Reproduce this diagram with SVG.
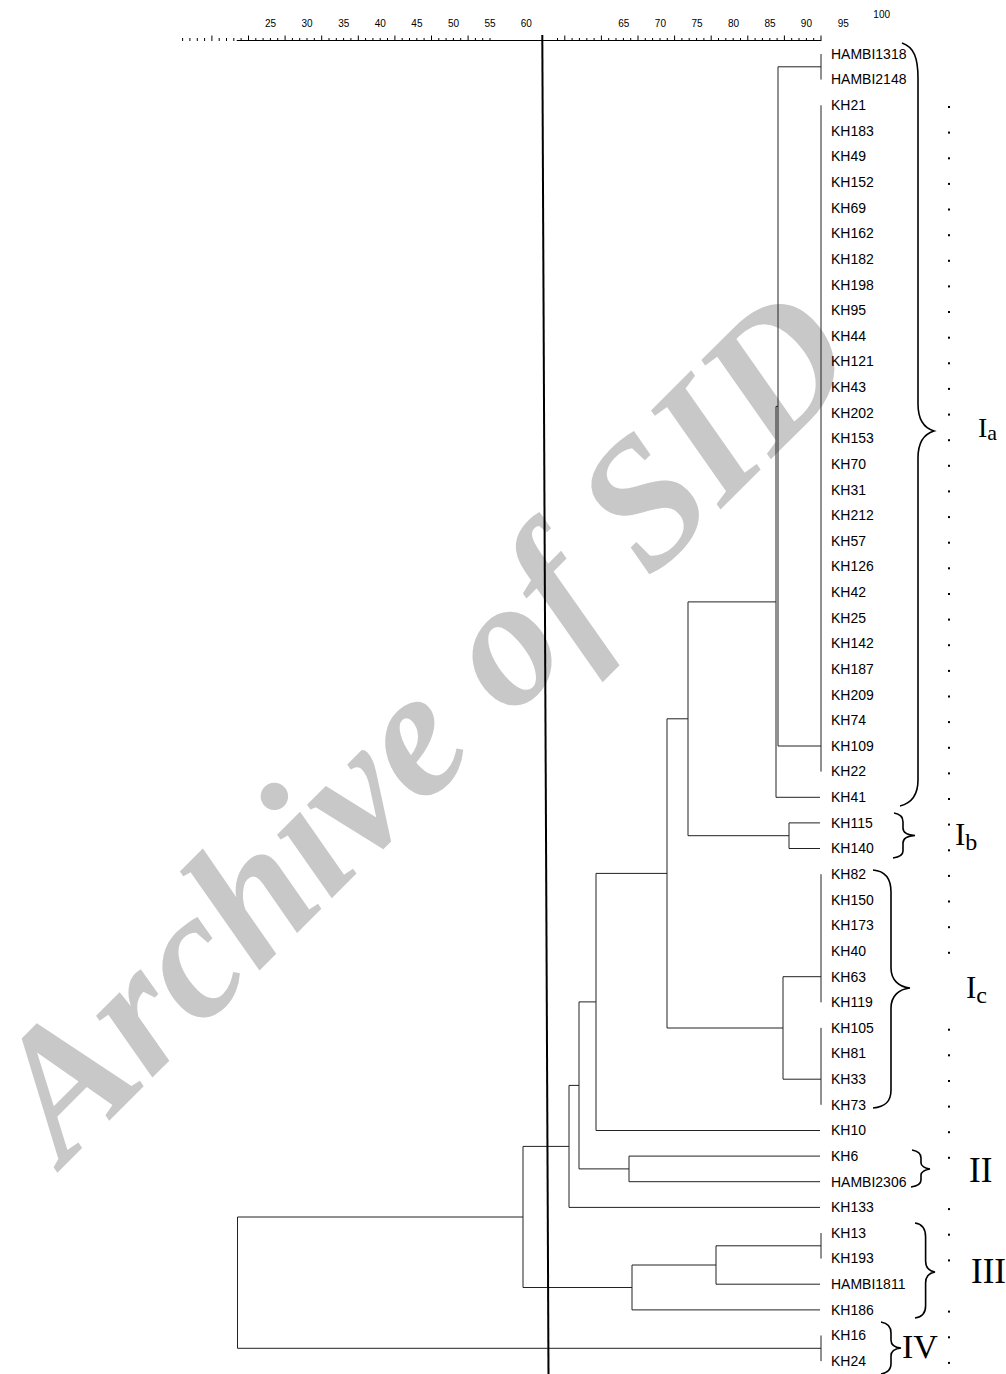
<svg xmlns="http://www.w3.org/2000/svg" xmlns:xlink="http://www.w3.org/1999/xlink" width="1006" height="1374" viewBox="0 0 1006 1374">
<style>
.lbl{font-family:"Liberation Sans",Arial,sans-serif;font-size:14px;fill:#000}
.ax{font-family:"Liberation Sans",Arial,sans-serif;font-size:10px;fill:#000;text-anchor:middle}
.grp{font-family:"Liberation Serif","Times New Roman",serif;fill:#000}
.tree{fill:none;stroke:#222;stroke-width:1}
.brace{fill:none;stroke:#000;stroke-width:1.6}
.tick{stroke:#000;stroke-width:1}
.dot{fill:#000}
.wm{font-family:"Liberation Serif","Times New Roman",serif;font-weight:bold;font-style:italic;fill:#c8c8c8}
</style>
<defs>
<rect id="d" class="dot" width="2" height="2"/>
</defs>
<rect width="1006" height="1374" fill="#fff"/>
<text class="wm" font-size="182" transform="translate(64,1166) rotate(-45)">Archive of SID</text>

<g id="axis">
<line class="tick" x1="236.7" y1="40.5" x2="821" y2="40.5"/>
<path class="tick" d="M182.6,38V41M189.9,38V41M197.3,38V41M204.6,38V41M211.9,35.5V41M219.2,38V41M226.5,38V41M233.8,38V41M241.1,38V41M248.5,35.5V41M255.8,38V41M263.1,38V41M270.4,38V41M277.7,38V41M285.1,35.5V41M292.4,38V41M299.7,38V41M307,38V41M314.3,38V41M321.7,35.5V41M329,38V41M336.3,38V41M343.6,38V41M350.9,38V41M358.3,35.5V41M365.6,38V41M372.9,38V41M380.2,38V41M387.5,38V41M394.9,35.5V41M402.2,38V41M409.5,38V41M416.8,38V41M424.1,38V41M431.5,35.5V41M438.8,38V41M446.1,38V41M453.4,38V41M460.7,38V41M468.1,35.5V41M475.4,38V41M482.7,38V41M490,38V41"/>
<path class="tick" d="M557.5,38V41M564.8,35.5V41M572.1,38V41M579.4,38V41M586.8,38V41M594.1,38V41M601.4,35.5V41M608.7,38V41M616,38V41M623.4,38V41M630.7,38V41M638,35.5V41M645.3,38V41M652.6,38V41M660,38V41M667.3,38V41M674.6,35.5V41M681.9,38V41M689.2,38V41M696.6,38V41M703.9,38V41M711.2,35.5V41M718.5,38V41M725.8,38V41M733.2,38V41M740.5,38V41M747.8,35.5V41M755.1,38V41M762.4,38V41M769.8,38V41M777.1,38V41M784.4,35.5V41M791.7,38V41M799,38V41M806.4,38V41M813.7,38V41M821,35.5V41"/>
<text class="ax" x="270.5" y="26.5">25</text>
<text class="ax" x="307.1" y="26.5">30</text>
<text class="ax" x="343.7" y="26.5">35</text>
<text class="ax" x="380.3" y="26.5">40</text>
<text class="ax" x="416.9" y="26.5">45</text>
<text class="ax" x="453.5" y="26.5">50</text>
<text class="ax" x="490.1" y="26.5">55</text>
<text class="ax" x="526.2" y="26.5">60</text>
<text class="ax" x="623.8" y="26.5">65</text>
<text class="ax" x="660.4" y="26.5">70</text>
<text class="ax" x="697" y="26.5">75</text>
<text class="ax" x="733.6" y="26.5">80</text>
<text class="ax" x="770" y="26.5">85</text>
<text class="ax" x="806.4" y="26.5">90</text>
<text class="ax" x="843.2" y="26.5">95</text>
<text class="ax" x="881.7" y="17.5">100</text>
</g>

<g id="connectors">
<path class="tree" d="M821,54V79.6M778,66.8H821M821,105.3V771.6M778,746H821M778,66.8V746M776,406.4H778M776,406.4V797.3H820M688,601.9H776"/>
<path class="tree" d="M789,822.9H820M789,848.5H820M789,822.9V848.5M688,835.7H789M688,601.9V835.7M667,718.8H688"/>
<path class="tree" d="M821,874.2V1002.3M783,976.7H821M821,1027.9V1104.8M783,1079.2H821M783,976.7V1079.2M667,1028H783M667,718.8V1028M596,873.4H667"/>
<path class="tree" d="M596,873.4V1130.5H820M579,1001.9H596M629,1156.1H820M629,1181.7H820M629,1156.1V1181.7M579,1168.9H629M579,1001.9V1168.9M569,1085.4H579M569,1085.4V1207.4H820M523,1146.4H569"/>
<path class="tree" d="M821,1233V1258.6M716,1245.8H821M716,1245.8V1284.2H820M632,1265H716M632,1265V1309.9H820M523,1287.5H632M523,1146.4V1287.5M237.5,1217H523"/>
<path class="tree" d="M821,1335.5V1361.1M237.5,1348.3H821M237.5,1217V1348.3"/>
</g>

<line id="cutline" x1="542.3" y1="35" x2="548.5" y2="1374" stroke="#000" stroke-width="2"/>

<g id="leaves">
<g id="n1"><text class="lbl" x="831" y="58.8">HAMBI1318</text></g>
<g id="n2"><text class="lbl" x="831" y="84.4">HAMBI2148</text></g>
<g id="n3"><text class="lbl" x="831" y="110.1">KH21</text></g>
<g id="n4"><text class="lbl" x="831" y="135.7">KH183</text></g>
<g id="n5"><text class="lbl" x="831" y="161.3">KH49</text></g>
<g id="n6"><text class="lbl" x="831" y="187">KH152</text></g>
<g id="n7"><text class="lbl" x="831" y="212.6">KH69</text></g>
<g id="n8"><text class="lbl" x="831" y="238.2">KH162</text></g>
<g id="n9"><text class="lbl" x="831" y="263.8">KH182</text></g>
<g id="n10"><text class="lbl" x="831" y="289.5">KH198</text></g>
<g id="n11"><text class="lbl" x="831" y="315.1">KH95</text></g>
<g id="n12"><text class="lbl" x="831" y="340.7">KH44</text></g>
<g id="n13"><text class="lbl" x="831" y="366.4">KH121</text></g>
<g id="n14"><text class="lbl" x="831" y="392">KH43</text></g>
<g id="n15"><text class="lbl" x="831" y="417.6">KH202</text></g>
<g id="n16"><text class="lbl" x="831" y="443.3">KH153</text></g>
<g id="n17"><text class="lbl" x="831" y="468.9">KH70</text></g>
<g id="n18"><text class="lbl" x="831" y="494.5">KH31</text></g>
<g id="n19"><text class="lbl" x="831" y="520.1">KH212</text></g>
<g id="n20"><text class="lbl" x="831" y="545.8">KH57</text></g>
<g id="n21"><text class="lbl" x="831" y="571.4">KH126</text></g>
<g id="n22"><text class="lbl" x="831" y="597">KH42</text></g>
<g id="n23"><text class="lbl" x="831" y="622.7">KH25</text></g>
<g id="n24"><text class="lbl" x="831" y="648.3">KH142</text></g>
<g id="n25"><text class="lbl" x="831" y="673.9">KH187</text></g>
<g id="n26"><text class="lbl" x="831" y="699.6">KH209</text></g>
<g id="n27"><text class="lbl" x="831" y="725.2">KH74</text></g>
<g id="n28"><text class="lbl" x="831" y="750.8">KH109</text></g>
<g id="n29"><text class="lbl" x="831" y="776.4">KH22</text></g>
<g id="n30"><text class="lbl" x="831" y="802.1">KH41</text></g>
<g id="n31"><text class="lbl" x="831" y="827.7">KH115</text></g>
<g id="n32"><text class="lbl" x="831" y="853.3">KH140</text></g>
<g id="n33"><text class="lbl" x="831" y="879">KH82</text></g>
<g id="n34"><text class="lbl" x="831" y="904.6">KH150</text></g>
<g id="n35"><text class="lbl" x="831" y="930.2">KH173</text></g>
<g id="n36"><text class="lbl" x="831" y="955.9">KH40</text></g>
<g id="n37"><text class="lbl" x="831" y="981.5">KH63</text></g>
<g id="n38"><text class="lbl" x="831" y="1007.1">KH119</text></g>
<g id="n39"><text class="lbl" x="831" y="1032.7">KH105</text></g>
<g id="n40"><text class="lbl" x="831" y="1058.4">KH81</text></g>
<g id="n41"><text class="lbl" x="831" y="1084">KH33</text></g>
<g id="n42"><text class="lbl" x="831" y="1109.6">KH73</text></g>
<g id="n43"><text class="lbl" x="831" y="1135.3">KH10</text></g>
<g id="n44"><text class="lbl" x="831" y="1160.9">KH6</text></g>
<g id="n45"><text class="lbl" x="831" y="1186.5">HAMBI2306</text></g>
<g id="n46"><text class="lbl" x="831" y="1212.2">KH133</text></g>
<g id="n47"><text class="lbl" x="831" y="1237.8">KH13</text></g>
<g id="n48"><text class="lbl" x="831" y="1263.4">KH193</text></g>
<g id="n49"><text class="lbl" x="831" y="1289">HAMBI1811</text></g>
<g id="n50"><text class="lbl" x="831" y="1314.7">KH186</text></g>
<g id="n51"><text class="lbl" x="831" y="1340.3">KH16</text></g>
<g id="n52"><text class="lbl" x="831" y="1365.9">KH24</text></g>
</g>

<g id="dots">
<use xlink:href="#d" x="948" y="106"/><use xlink:href="#d" x="948" y="131.6"/><use xlink:href="#d" x="948" y="157.3"/><use xlink:href="#d" x="948" y="182.9"/><use xlink:href="#d" x="948" y="208.5"/><use xlink:href="#d" x="948" y="234.2"/><use xlink:href="#d" x="948" y="259.8"/><use xlink:href="#d" x="948" y="285.4"/><use xlink:href="#d" x="948" y="311"/><use xlink:href="#d" x="948" y="336.7"/><use xlink:href="#d" x="948" y="362.3"/><use xlink:href="#d" x="948" y="387.9"/><use xlink:href="#d" x="948" y="413.6"/><use xlink:href="#d" x="948" y="439.2"/><use xlink:href="#d" x="948" y="464.8"/><use xlink:href="#d" x="948" y="490.4"/><use xlink:href="#d" x="948" y="516.1"/><use xlink:href="#d" x="948" y="541.7"/><use xlink:href="#d" x="948" y="567.3"/><use xlink:href="#d" x="948" y="593"/><use xlink:href="#d" x="948" y="618.6"/><use xlink:href="#d" x="948" y="644.2"/><use xlink:href="#d" x="948" y="669.9"/><use xlink:href="#d" x="948" y="695.5"/><use xlink:href="#d" x="948" y="721.1"/><use xlink:href="#d" x="948" y="746.8"/><use xlink:href="#d" x="948" y="772.4"/><use xlink:href="#d" x="948" y="798"/><use xlink:href="#d" x="948" y="823.6"/><use xlink:href="#d" x="948" y="849.3"/><use xlink:href="#d" x="948" y="874.9"/><use xlink:href="#d" x="948" y="900.5"/><use xlink:href="#d" x="948" y="926.2"/><use xlink:href="#d" x="948" y="951.8"/><use xlink:href="#d" x="948" y="1028.7"/><use xlink:href="#d" x="948" y="1054.3"/><use xlink:href="#d" x="948" y="1080"/><use xlink:href="#d" x="948" y="1105.6"/><use xlink:href="#d" x="948" y="1131.2"/><use xlink:href="#d" x="948" y="1156.8"/><use xlink:href="#d" x="948" y="1208.1"/><use xlink:href="#d" x="948" y="1233.7"/><use xlink:href="#d" x="948" y="1259.4"/><use xlink:href="#d" x="948" y="1310.6"/><use xlink:href="#d" x="948" y="1336.3"/><use xlink:href="#d" x="948" y="1361.9"/>
</g>

<g id="group-Ia">
<path class="brace" d="M902,43C914,47 918,58 918,78L918,404C918,419 924,428 934,431C924,434 918,443 918,458L918,780C918,795 912,803 900,806"/>
<text class="grp" x="978" y="437" font-size="28">I<tspan font-size="22" dy="3">a</tspan></text>
</g>
<g id="group-Ib">
<path class="brace" d="M894,813C900,814 903,817 903,822L903,828C903,832 907,835 915,835.5C907,836 903,839 903,843L903,851C903,855 900,857 893,858"/>
<text class="grp" x="955" y="845" font-size="31">I<tspan font-size="24" dy="5">b</tspan></text>
</g>
<g id="group-Ic">
<path class="brace" d="M873,870C885,871 891,878 891,892L891,968C891,980 899,987 910,988C899,989 891,996 891,1008L891,1090C891,1102 885,1107 873,1108"/>
<text class="grp" x="966" y="998" font-size="31">I<tspan font-size="24" dy="5">c</tspan></text>
</g>
<g id="group-II">
<path class="brace" d="M912,1150C918,1151 921,1154 921,1158L921,1163C921,1166 925,1168.5 930,1169C925,1169.5 921,1172 921,1175L921,1180C921,1184 918,1186 911,1187"/>
<text class="grp" x="969" y="1182" font-size="35">II</text>
</g>
<g id="group-III">
<path class="brace" d="M915,1223C922,1224 925.6,1229 925.6,1237L925.6,1261C925.6,1267 929,1271 935,1272C929,1273 925.6,1277 925.6,1283L925.6,1306C925.6,1313 922,1317 915,1318"/>
<text class="grp" x="971" y="1283" font-size="35">III</text>
</g>
<g id="group-IV">
<path class="brace" d="M881,1322C887,1323 891,1327 891,1333L891,1340C891,1345 895,1347.5 901,1348C895,1348.5 891,1351 891,1356L891,1364C891,1370 887,1373 881,1374"/>
<text class="grp" x="902" y="1358" font-size="34">IV</text>
</g>
</svg>
